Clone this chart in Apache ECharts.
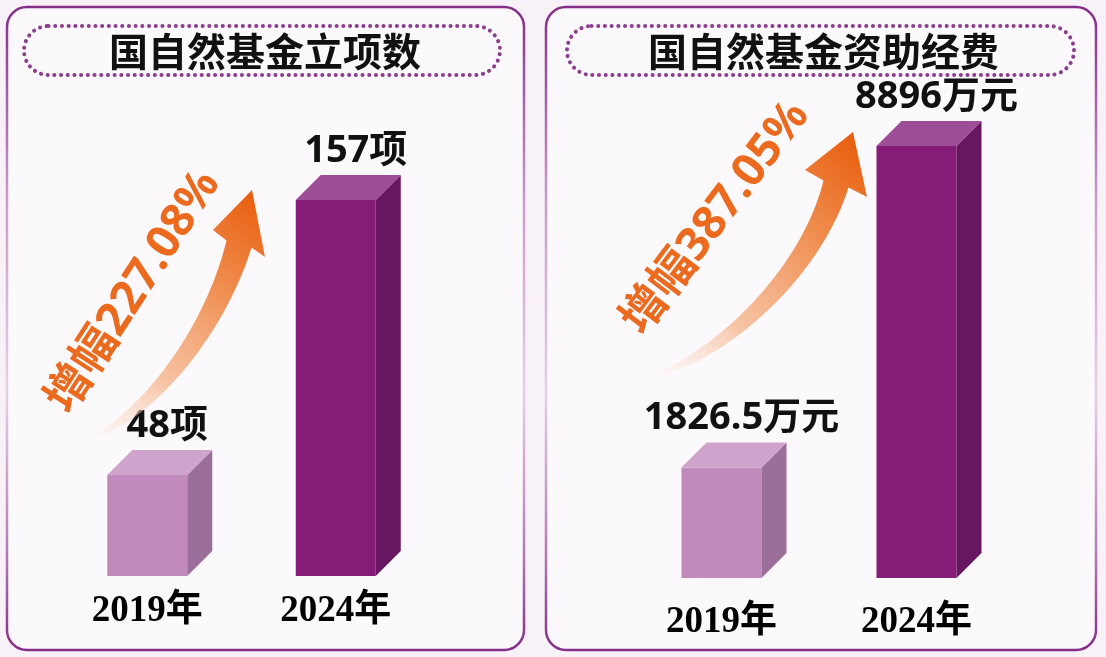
<!DOCTYPE html>
<html>
<head>
<meta charset="utf-8">
<style>
  html, body { margin: 0; padding: 0; background: #f8f1f7; }
  #chart { width: 1106px; height: 657px; }
</style>
<script src="https://cdn.jsdelivr.net/npm/echarts@6/dist/echarts.min.js"></script>
</head>
<body>
<div id="chart"></div>
<script>
// data
const years = ['2019年', '2024年'];
const projectCounts = [48, 157];      // 立项数（项）
const fundingWan = [1826.5, 8896];    // 资助经费（万元）
const panelTitles = ['国自然基金立项数', '国自然基金资助经费'];
const growthTexts = ['增幅227.08%', '增幅387.05%'];
const units = ['项', '万元'];

const chart = echarts.init(document.getElementById('chart'));

// bar faces: light for 2019, dark for 2024
const FRONT = ['#c08abd', '#851c78'];
const SIDE = ['#9b6f9a', '#671660'];
const TOP = ['#cfa4cc', '#9c4d95'];
const BAR_W = 80, DEPTH = 25;
const SANS = '"Noto Sans", "Noto Sans CJK SC", sans-serif';

function bar3d(axisMin, unit) {
  return function (params, api) {
    const idx = api.value(0);
    const top = api.coord([idx, api.value(1)]);
    const bot = api.coord([idx, axisMin]);
    const x0 = top[0] - BAR_W / 2, x1 = x0 + BAR_W;
    const yt = top[1], yb = bot[1];
    return {
      type: 'group',
      children: [
        { type: 'rect', shape: { x: x0, y: yt, width: BAR_W, height: yb - yt }, style: { fill: FRONT[idx] } },
        { type: 'polygon', shape: { points: [[x1, yt], [x1 + DEPTH, yt - DEPTH], [x1 + DEPTH, yb - DEPTH], [x1, yb]] }, style: { fill: SIDE[idx] } },
        { type: 'polygon', shape: { points: [[x0, yt], [x0 + DEPTH, yt - DEPTH], [x1 + DEPTH, yt - DEPTH], [x1, yt]] }, style: { fill: TOP[idx] } },
        {
          type: 'text', x: top[0] + 20, y: yt - DEPTH - 5,
          style: {
            text: api.value(1) + unit, fill: '#111',
            fontSize: 38, fontWeight: 'bold', fontFamily: SANS,
            align: 'center', verticalAlign: 'bottom', textAlign: 'center', textVerticalAlign: 'bottom'
          }
        }
      ]
    };
  };
}

// tapered curved arrow outline from a cubic bezier centre line
function arrowPoints(p0, c1, c2, p3, barbL, tip, barbR, wEnd) {
  const L = [], R = [];
  const N = 40;
  for (let i = 0; i <= N; i++) {
    const t = i / N, u = 1 - t;
    const x = u*u*u*p0[0] + 3*u*u*t*c1[0] + 3*u*t*t*c2[0] + t*t*t*p3[0];
    const y = u*u*u*p0[1] + 3*u*u*t*c1[1] + 3*u*t*t*c2[1] + t*t*t*p3[1];
    const dx = 3*u*u*(c1[0]-p0[0]) + 6*u*t*(c2[0]-c1[0]) + 3*t*t*(p3[0]-c2[0]);
    const dy = 3*u*u*(c1[1]-p0[1]) + 6*u*t*(c2[1]-c1[1]) + 3*t*t*(p3[1]-c2[1]);
    const len = Math.hypot(dx, dy);
    const nx = -dy / len, ny = dx / len;
    const h = 0.5 + (wEnd - 0.5) * Math.pow(t, 0.7);
    L.push([x - nx * h, y - ny * h]);
    R.push([x + nx * h, y + ny * h]);
  }
  return L.concat([barbL, tip, barbR], R.reverse());
}

function arrowFill(p0, tip) {
  return {
    type: 'linear', x: p0[0], y: p0[1], x2: tip[0], y2: tip[1], global: true,
    colorStops: [
      { offset: 0, color: 'rgba(250,220,200,0)' },
      { offset: 0.3, color: 'rgba(246,190,155,0.9)' },
      { offset: 0.7, color: '#ef8a4a' },
      { offset: 1, color: '#e85d0c' }
    ]
  };
}

const borderGrad = {
  type: 'linear', x: 0, y: 0, x2: 0, y2: 1,
  colorStops: [
    { offset: 0, color: '#832c88' },
    { offset: 0.3, color: '#c99bcb' },
    { offset: 0.6, color: '#e6cfe6' },
    { offset: 0.85, color: '#b27ab5' },
    { offset: 1, color: '#832c88' }
  ]
};

function panel(x, w) {
  return { type: 'rect', z: 0, shape: { x: x, y: 7, width: w, height: 643, r: 20 },
    style: { fill: '#fcf9fc', stroke: borderGrad, lineWidth: 2.5 } };
}
function pill(x, w, title) {
  return [
    { type: 'rect', z: 1, shape: { x: x, y: 26, width: w, height: 49, r: 24.5 },
      style: { fill: 'none', stroke: '#8b3d8f', lineWidth: 4, lineDash: [0.1, 6.6], lineCap: 'round' } },
    { type: 'text', z: 1, x: x + w / 2 + 3, y: 51,
      style: { text: title, fill: '#111', fontSize: 39, fontWeight: 'bold', fontFamily: '"Noto Sans CJK SC", sans-serif',
        align: 'center', verticalAlign: 'middle', textAlign: 'center', textVerticalAlign: 'middle' } }
  ];
}
function growth(text, x, y, deg) {
  return { type: 'text', z: 20, x: x, y: y, rotation: deg * Math.PI / 180,
    style: { text: text, fill: '#ec6a1e', fontSize: 46, fontWeight: 'bold', fontFamily: SANS,
      align: 'center', verticalAlign: 'middle', textAlign: 'center', textVerticalAlign: 'middle' } };
}

const arrowA = { p0: [87, 440], c1: [150, 415], c2: [215, 330], p3: [239, 244], bl: [213, 230], tip: [252, 190], br: [265, 257] };
const arrowB = { p0: [650, 377], c1: [725, 355], c2: [812, 270], p3: [836, 184], bl: [805, 170], tip: [853, 132], br: [867, 197] };

const yearLabel = (margin) => ({
  margin: margin, fontSize: 37, fontWeight: 'bold', color: '#000',
  fontFamily: '"Liberation Serif", "Noto Sans CJK SC", serif'
});

chart.setOption({
  backgroundColor: '#f8f1f7',
  animation: false,
  grid: [
    { left: 53, width: 377, top: 142, height: 434 },
    { left: 624, width: 390, top: 114, height: 464 }
  ],
  xAxis: [
    { gridIndex: 0, type: 'category', data: years, axisLine: { show: false }, axisTick: { show: false }, axisLabel: yearLabel(17) },
    { gridIndex: 1, type: 'category', data: years, axisLine: { show: false }, axisTick: { show: false }, axisLabel: yearLabel(26) }
  ],
  yAxis: [
    { gridIndex: 0, type: 'value', min: 8, max: 180, show: false },
    { gridIndex: 1, type: 'value', min: -600, max: 9600, show: false }
  ],
  graphic: [
    panel(7, 517),
    panel(546, 550),
    ...pill(24, 476, panelTitles[0]),
    ...pill(567, 507, panelTitles[1]),
    { type: 'polygon', z: 15, shape: { points: arrowPoints(arrowA.p0, arrowA.c1, arrowA.c2, arrowA.p3, arrowA.bl, arrowA.tip, arrowA.br, 13) },
      style: { fill: arrowFill(arrowA.p0, arrowA.tip) } },
    { type: 'polygon', z: 15, shape: { points: arrowPoints(arrowB.p0, arrowB.c1, arrowB.c2, arrowB.p3, arrowB.bl, arrowB.tip, arrowB.br, 13) },
      style: { fill: arrowFill(arrowB.p0, arrowB.tip) } },
    growth(growthTexts[0], 134, 292, 57),
    growth(growthTexts[1], 716, 218, 53)
  ],
  series: [
    { type: 'custom', xAxisIndex: 0, yAxisIndex: 0, z: 5, renderItem: bar3d(8, units[0]),
      data: projectCounts.map((v, i) => [i, v]) },
    { type: 'custom', xAxisIndex: 1, yAxisIndex: 1, z: 5, renderItem: bar3d(-600, units[1]),
      data: fundingWan.map((v, i) => [i, v]) }
  ]
});
</script>
</body>
</html>
